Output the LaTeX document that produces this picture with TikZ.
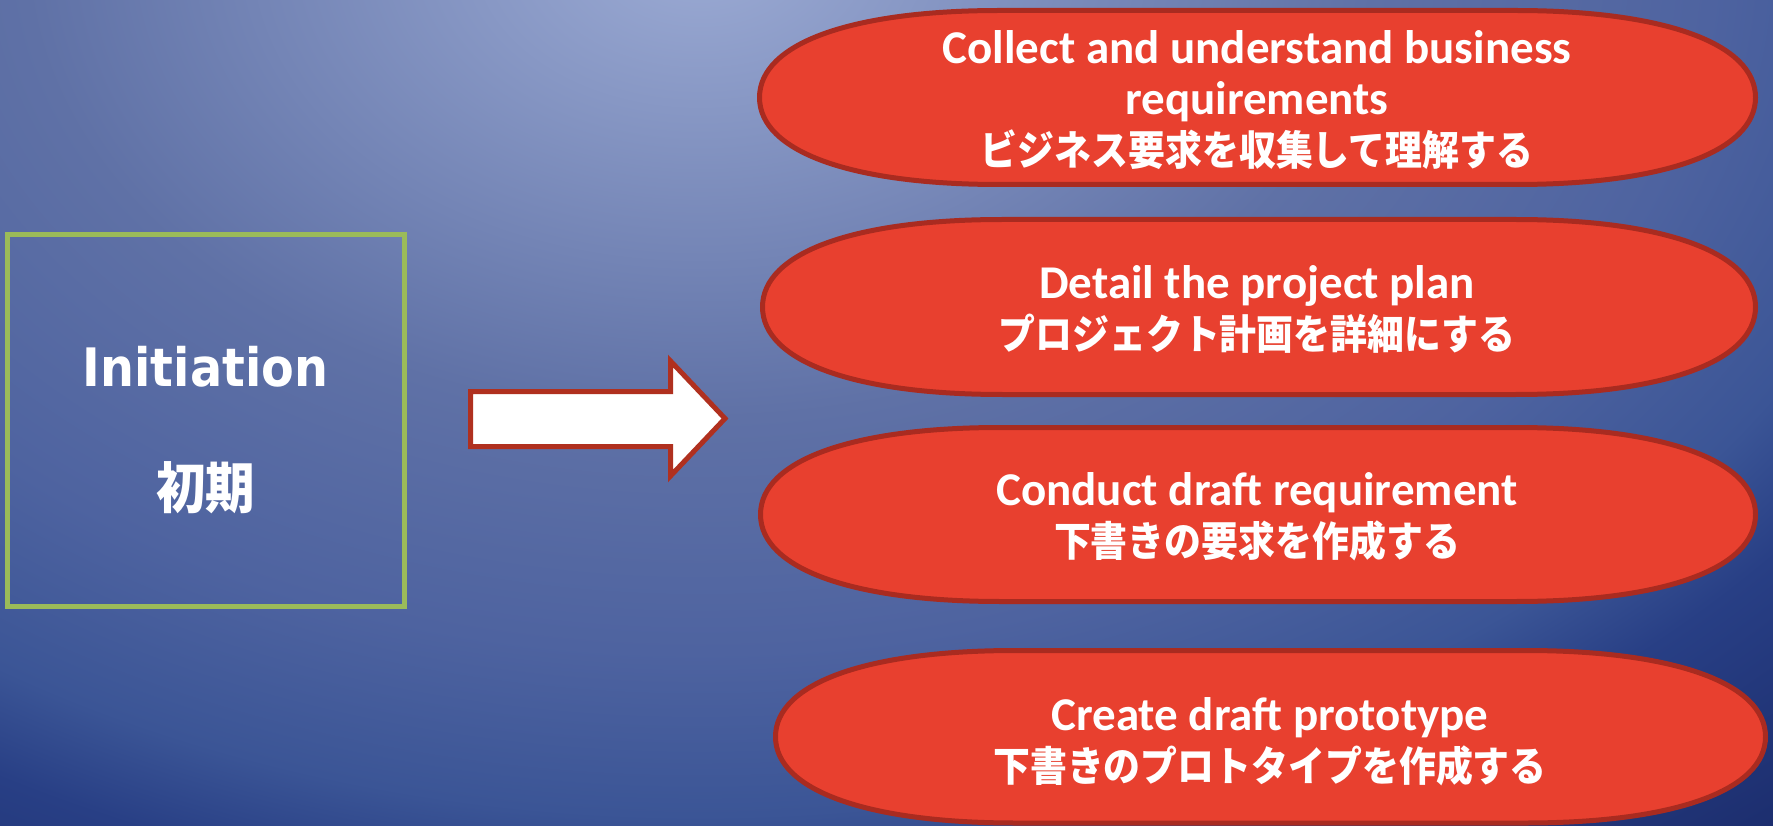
\documentclass[tikz,border=0pt]{standalone}
\usepackage{fontspec}
\newfontfamily\enfont{Carlito}
\newfontfamily\jpfont{Noto Sans CJK JP}[FakeStretch=0.9]
\newfontfamily\hdfont{DejaVu Sans}[FakeStretch=0.9]
\newcommand\ensz{\enfont\fontsize{47}{51}\selectfont}
\newcommand\jpsz{\jpfont\fontsize{41}{51}\selectfont}
\definecolor{bgA}{HTML}{9CABD4}
\definecolor{bgB}{HTML}{5F71A6}
\definecolor{bgC}{HTML}{4E63A0}
\definecolor{bgD}{HTML}{3B5596}
\definecolor{bgE}{HTML}{283F85}
\definecolor{bgF}{HTML}{1B2C6C}
\definecolor{capfill}{HTML}{E8402F}
\definecolor{capline}{HTML}{A92B20}
\definecolor{arrline}{HTML}{B0301F}
\definecolor{boxline}{HTML}{9BBB59}
\pgfdeclareradialshading{bgshade}{\pgfpoint{0bp}{0bp}}{color(0bp)=(bgA); color(20bp)=(bgB); color(30bp)=(bgC); color(37bp)=(bgD); color(41bp)=(bgE); color(50bp)=(bgF)}
% L R T B a style
\newcommand\capsuleshape[6]{%
\draw[#6] ({#1+#5},#3) -- ({#2-#5},#3)
 .. controls ({#2-#5+0.62*#5},#3) and (#2,{(#3+#4)/2-0.62*(#4-#3)/2}) .. (#2,{(#3+#4)/2})
 .. controls (#2,{(#3+#4)/2+0.62*(#4-#3)/2}) and ({#2-#5+0.62*#5},#4) .. ({#2-#5},#4)
 -- ({#1+#5},#4)
 .. controls ({#1+#5-0.62*#5},#4) and (#1,{(#3+#4)/2+0.62*(#4-#3)/2}) .. (#1,{(#3+#4)/2})
 .. controls (#1,{(#3+#4)/2-0.62*(#4-#3)/2}) and ({#1+#5-0.62*#5},#3) .. cycle;}
\tikzset{
  capsule/.style={fill=capfill, draw=capline, line width=5pt},
  captext/.style={text=white, align=center, inner sep=0pt, font={\bfseries\fontsize{47}{51}\selectfont}},
  initbox/.style={draw=boxline, line width=5pt, minimum width=397pt, minimum height=371pt, inner sep=0pt},
  initlabel/.style={text=white, inner sep=0pt, font=\bfseries},
  bigarrow/.style={fill=white, draw=arrline, line width=5pt, miter limit=10}
}
\begin{document}
\begin{tikzpicture}[x=1pt,y=-1pt]
\useasboundingbox (0,0) rectangle (1773,826);
\begin{scope}
\clip (0,0) rectangle (1773,826);
\begin{scope}[transform canvas={shift={(700,-50)}, xscale=33.67, yscale=23.31}]
\pgfuseshading{bgshade}
\end{scope}
\end{scope}
% left box
\node[initbox] (init) at (205.5,420.5) {};
\node[initlabel, anchor=base] (initen) at (205.5,387) {\hdfont\fontsize{53}{60}\selectfont Initiation};
\node[initlabel] (initjp) at (205.5,487.5) {\jpfont\fontsize{55}{60}\selectfont 初期};
% arrow
\draw[bigarrow] (470.5,391.5) -- (670.5,391.5) -- (670.5,361) -- (725,418.5) -- (670.5,476) -- (670.5,446.5) -- (470.5,446.5) -- cycle;
% capsules
\capsuleshape{759.5}{1755.5}{10.5}{184.5}{240}{capsule}
\capsuleshape{762.5}{1755.5}{219.5}{394.5}{240}{capsule}
\capsuleshape{760.5}{1755.5}{427.5}{601.5}{240}{capsule}
\capsuleshape{775.5}{1765.5}{650.5}{823}{240}{capsule}
\node[captext] (t1) at (1257,100) {\ensz Collect and understand business\\\ensz requirements\\\jpsz ビジネス要求を収集して理解する};
\node[captext] (t2) at (1257,309) {\ensz Detail the project plan\\\jpsz プロジェクト計画を詳細にする};
\node[captext] (t3) at (1257,517) {\ensz Conduct draft requirement\\\jpsz 下書きの要求を作成する};
\node[captext] (t4) at (1270,742) {\ensz Create draft prototype\\\jpsz 下書きのプロトタイプを作成する};
\end{tikzpicture}
\end{document}
